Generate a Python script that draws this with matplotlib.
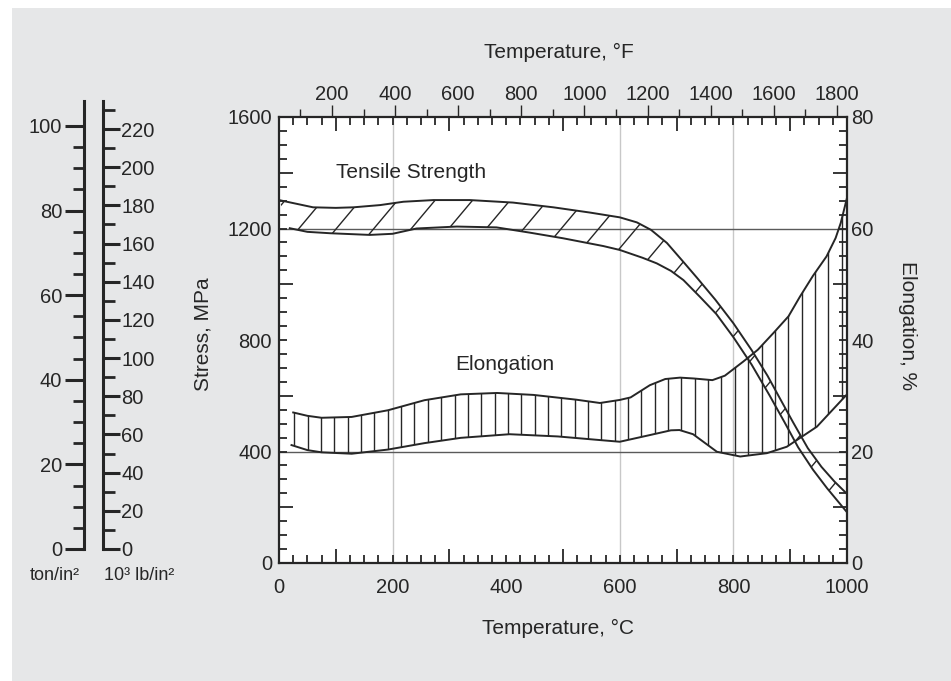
import numpy as np
import matplotlib
matplotlib.use("Agg")
import matplotlib.pyplot as plt
from matplotlib.patches import Polygon, Rectangle
from matplotlib.collections import LineCollection
from matplotlib.ticker import FixedLocator, MultipleLocator

plt.rcParams['font.family'] = ['Liberation Sans', 'DejaVu Sans']

# tensile strength band (temperature degC, stress MPa)
ts_upper_t = [0, 30, 60, 100, 131, 178, 219, 272, 336, 412, 483, 548, 600, 630, 655, 683,
              712, 736, 768, 800, 832, 860, 882, 905, 931, 955, 978, 1000]
ts_upper_mpa = [1302, 1289, 1276, 1274, 1276, 1284, 1296, 1302, 1302, 1293, 1276, 1257, 1240, 1222,
                1195, 1148, 1080, 1023, 945, 860, 764, 672, 590, 505, 412, 345, 292, 248]
ts_lower_t = [19, 50, 90, 160, 200, 242, 313, 383, 442, 500, 571, 600, 640, 665, 690, 712,
              741, 770, 800, 832, 864, 890, 914, 940, 965, 1000]
ts_lower_mpa = [1201, 1188, 1183, 1177, 1181, 1200, 1207, 1204, 1185, 1165, 1137, 1123, 1095, 1075,
                1048, 1015, 955, 893, 810, 712, 600, 505, 415, 335, 268, 182]

# elongation band (temperature degC, elongation %)
el_upper_t = [25, 50, 75, 128, 192, 256, 320, 384, 448, 523, 565, 600, 619, 653, 680, 706, 730,
              763, 785, 817, 843, 870, 897, 917, 940, 964, 980, 989, 1000]
el_upper_pct = [27.0, 26.4, 26.05, 26.2, 27.4, 29.2, 30.25, 30.5, 30.15, 29.3, 28.7, 29.25, 29.7,
                31.9, 33.0, 33.25, 33.1, 32.8, 33.6, 36.1, 38.25, 41.2, 44.25, 47.75, 51.5, 55.0,
                58.3, 61.0, 65.5]
el_lower_t = [22, 50, 75, 128, 192, 256, 320, 406, 491, 565, 600, 653, 690, 705, 729, 771, 812,
              859, 894, 947, 1000]
el_lower_pct = [21.15, 20.25, 19.85, 19.6, 20.35, 21.5, 22.45, 23.1, 22.7, 22.05, 21.75, 22.95,
                23.8, 23.85, 23.1, 19.95, 19.1, 19.7, 20.85, 24.45, 30.25]

# axes scales
celsius_ticks = [0, 200, 400, 600, 800, 1000]
fahrenheit_ticks = [200, 400, 600, 800, 1000, 1200, 1400, 1600, 1800]
fahrenheit_minor = [100, 300, 500, 700, 900, 1100, 1300, 1500, 1700]
stress_ticks = [0, 400, 800, 1200, 1600]
elong_ticks = [0, 20, 40, 60, 80]
ton_ticks = [0, 20, 40, 60, 80, 100]
ksi_ticks = [0, 20, 40, 60, 80, 100, 120, 140, 160, 180, 200, 220]
ref_stress = [400, 1200]
ref_temp = [200, 600, 800]

W, H = 951, 681
INK = '#262626'


def px(x, y):
    return x / W, 1 - y / H


def c2f(c):
    return np.asarray(c) * 9 / 5 + 32


def f2c(f):
    return (np.asarray(f) - 32) * 5 / 9


def mpa2pct(m):
    return np.asarray(m) / 20


def pct2mpa(p):
    return np.asarray(p) * 20


fig = plt.figure(figsize=(W / 100, H / 100), dpi=100)
fig.patch.set_facecolor('white')
fig.add_artist(Rectangle((12 / W, 0), 1, 1 - 8 / H, transform=fig.transFigure,
                         facecolor='#e6e7e8', edgecolor='none', zorder=-10))

# ---- main chart ----
x0, y0 = px(279, 563)
ax = fig.add_axes([x0, y0, 568 / W, 446 / H])
ax.set_facecolor('white')
ax.set_xlim(0, 1000)
ax.set_ylim(0, 1600)
for s in ax.spines.values():
    s.set_linewidth(1.6)
    s.set_color(INK)

ax.xaxis.set_major_locator(FixedLocator([100, 300, 500, 700, 900]))
ax.xaxis.set_minor_locator(MultipleLocator(25))
ax.yaxis.set_major_locator(FixedLocator([200, 600, 1000, 1400]))
ax.yaxis.set_minor_locator(MultipleLocator(50))
ax.tick_params(which='both', direction='in', top=True, bottom=True, left=True, right=True,
               labelbottom=False, labelleft=False, color=INK, width=1.3)
ax.tick_params(which='major', length=10)
ax.tick_params(which='minor', length=6)

for t in ref_temp:
    ax.axvline(t, color='#c8c8c8', lw=1.0, zorder=1)
for m in ref_stress:
    ax.axhline(m, color='#5a5a5a', lw=1.0, zorder=1)

# tensile strength band with slanted hatch
ts_verts = list(zip(ts_upper_t, ts_upper_mpa)) + list(zip(ts_lower_t[::-1], ts_lower_mpa[::-1]))
ts_poly = Polygon(ts_verts, closed=True, facecolor='none', edgecolor='none')
ax.add_patch(ts_poly)
slope = 2.43  # MPa per degC, about 50 degrees on screen
starts = np.arange(31 - 1190 / slope - 66 * 3, 1000, 66)
hatch = LineCollection([[(c, 0), (c + 1600 / slope, 1600)] for c in starts],
                       colors=INK, linewidths=1.0, zorder=3)
ax.add_collection(hatch)
hatch.set_clip_path(ts_poly)
ax.plot(ts_upper_t, ts_upper_mpa, color=INK, lw=1.4, zorder=4)
ax.plot(ts_lower_t, ts_lower_mpa, color=INK, lw=1.4, zorder=4)

# elongation band with vertical hatch
el_up = pct2mpa(el_upper_pct)
el_lo = pct2mpa(el_lower_pct)
el_verts = list(zip(el_upper_t, el_up)) + list(zip(el_lower_t[::-1], el_lo[::-1]))
el_poly = Polygon(el_verts, closed=True, facecolor='none', edgecolor='none')
ax.add_patch(el_poly)
vl = ax.vlines(np.arange(27, 1000, 23.5), 0, 1600, colors=INK, linewidths=1.0, zorder=3)
vl.set_clip_path(el_poly)
ax.plot(el_upper_t, el_up, color=INK, lw=1.4, zorder=4)
ax.plot(el_lower_t, el_lo, color=INK, lw=1.4, zorder=4)

ax.text(232, 1401, 'Tensile Strength', fontsize=15, color=INK, ha='center', va='center')
ax.text(398, 712, 'Elongation', fontsize=15, color=INK, ha='center', va='center')

# tick labels on secondary axes
bot = ax.secondary_xaxis('bottom')
bot.set_xticks(celsius_ticks)
bot.tick_params(length=0, pad=11, labelsize=14.5, labelcolor=INK)

top = ax.secondary_xaxis('top', functions=(c2f, f2c))
top.set_xticks(fahrenheit_ticks)
top.xaxis.set_minor_locator(FixedLocator(fahrenheit_minor))
top.tick_params(which='both', direction='out', color=INK, width=1.0, labelsize=14.5,
                labelcolor=INK, pad=0.5)
top.tick_params(which='major', length=8.6)
top.tick_params(which='minor', length=5.5)

lft = ax.secondary_yaxis('left')
lft.set_yticks(stress_ticks)
lft.tick_params(length=0, pad=5, labelsize=14.5, labelcolor=INK)

rgt = ax.secondary_yaxis('right', functions=(mpa2pct, pct2mpa))
rgt.set_yticks(elong_ticks)
rgt.tick_params(length=0, pad=3, labelsize=14.5, labelcolor=INK)

for sec in (bot, top, lft, rgt):
    for s in sec.spines.values():
        s.set_visible(False)

fig.text(*px(559, 52), 'Temperature, °F', ha='center', va='center', fontsize=15, color=INK)
fig.text(*px(558, 628), 'Temperature, °C', ha='center', va='center', fontsize=15, color=INK)
fig.text(*px(203, 334), 'Stress, MPa', ha='center', va='center', rotation=90, fontsize=15, color=INK)
fig.text(*px(908, 326), 'Elongation, %', ha='center', va='center', rotation=270, fontsize=15,
         color=INK)

# ---- conversion scales on the left ----
sb = 1 - 549 / H
sh = (549 - 101) / H

ax_ton = fig.add_axes([84 / W, sb, 0.0005, sh])
ax_ton.set_ylim(0, 448 / 4.23)
ax_ton.set_xticks([])
ax_ton.patch.set_visible(False)
for k, s in ax_ton.spines.items():
    s.set_visible(k == 'left')
ax_ton.spines['left'].set_linewidth(2.2)
ax_ton.spines['left'].set_color(INK)
ax_ton.yaxis.set_major_locator(FixedLocator(ton_ticks))
ax_ton.yaxis.set_minor_locator(FixedLocator([v for v in range(5, 100, 5) if v % 20]))
ax_ton.tick_params(axis='y', which='both', direction='out', color=INK, labelsize=14.5,
                   labelcolor=INK, pad=2)
ax_ton.tick_params(axis='y', which='major', length=13.7, width=2.2)
ax_ton.tick_params(axis='y', which='minor', length=8, width=2.0)

ax_ksi = fig.add_axes([103 / W - 0.0005, sb, 0.0005, sh])
ax_ksi.set_ylim(0, 448 / 1.909)
ax_ksi.set_xticks([])
ax_ksi.patch.set_visible(False)
for k, s in ax_ksi.spines.items():
    s.set_visible(k == 'right')
ax_ksi.spines['right'].set_linewidth(2.2)
ax_ksi.spines['right'].set_color(INK)
ax_ksi.yaxis.tick_right()
ax_ksi.yaxis.set_major_locator(FixedLocator(ksi_ticks))
ax_ksi.yaxis.set_minor_locator(FixedLocator(list(range(10, 240, 20))))
ax_ksi.tick_params(axis='y', which='both', direction='out', color=INK, labelsize=14.5,
                   labelcolor=INK, pad=1)
ax_ksi.tick_params(axis='y', which='major', length=12.2, width=2.2)
ax_ksi.tick_params(axis='y', which='minor', length=8.6, width=2.0)

fig.text(*px(55, 575), 'ton/in²', ha='center', va='center', fontsize=13, color=INK)
fig.text(*px(139, 575), '10³ lb/in²', ha='center', va='center', fontsize=13, color=INK)

fig.savefig('out.png', dpi=100, facecolor=fig.get_facecolor())
